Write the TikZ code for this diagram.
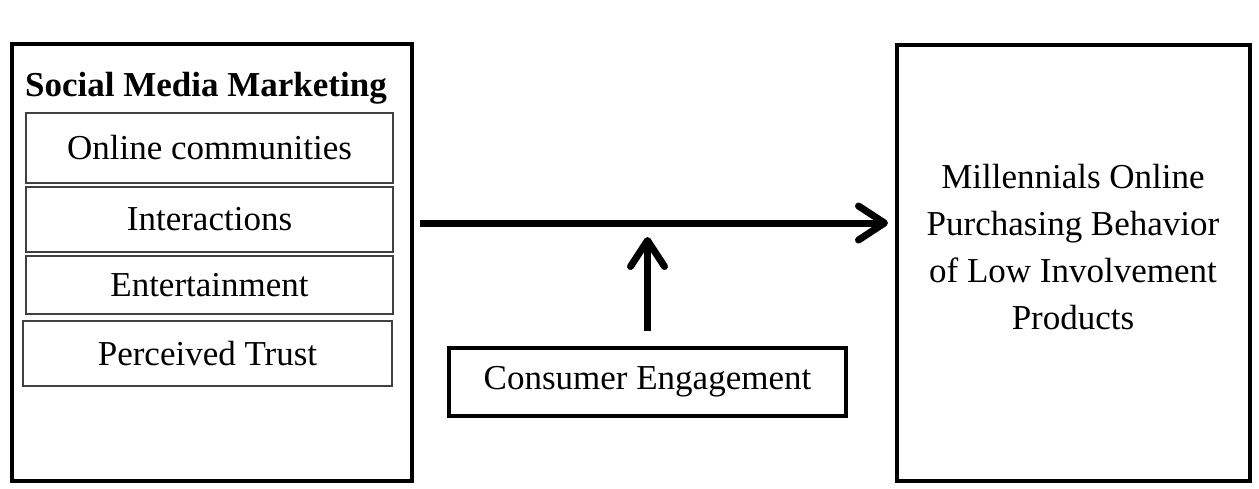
\documentclass[tikz,border=0pt]{standalone}
\usepackage{fontspec}
\setmainfont{Liberation Serif}
\usetikzlibrary{arrows.meta}
\begin{document}
\begin{tikzpicture}[x=1pt,y=-1pt,
  bigbox/.style={draw, line width=4pt, inner sep=0pt},
  itembox/.style={draw=black!75, line width=1.6pt, inner sep=0pt, font=\fontsize{35}{47}\selectfont},
  lbl/.style={font=\fontsize{35}{47}\selectfont, align=center, inner sep=0pt},
  flow/.style={line width=7pt, -{Straight Barb[length=26pt,width=34pt,round]}}]
\useasboundingbox (0,0) rectangle (1259,488);
% left outer box
\node[bigbox, minimum width=400pt, minimum height=437pt] (smm) at (212,262.5) {};
\node[lbl, font=\fontsize{35}{47}\selectfont\bfseries] (title) at (206,88) {Social Media Marketing};
\node[itembox, minimum width=367pt, minimum height=70pt] (b1) at (209.5,148) {Online communities};
\node[itembox, minimum width=367pt, minimum height=65pt] (b2) at (209.5,219.5) {Interactions};
\node[itembox, minimum width=367pt, minimum height=58pt] (b3) at (209.5,285) {Entertainment};
\node[itembox, minimum width=369pt, minimum height=65pt] (b4) at (207.5,353.5) {Perceived Trust};
% right box
\node[bigbox, minimum width=353pt, minimum height=436pt] (out) at (1073.5,263) {};
\node[lbl] (outtext) at (1073,247) {Millennials Online\\Purchasing Behavior\\of Low Involvement\\Products};
% moderator
\node[bigbox, lbl, minimum width=397pt, minimum height=68pt] (ce) at (647.5,382) {Consumer Engagement};
% arrows
\coordinate (ay) at (0,223);
\draw[flow, shorten <=6pt, shorten >=7pt] (smm.east |- ay) -- (out.west |- ay);
\draw[flow, shorten <=15pt, shorten >=14pt] (ce.north) -- (ce.north |- ay);
\end{tikzpicture}
\end{document}
